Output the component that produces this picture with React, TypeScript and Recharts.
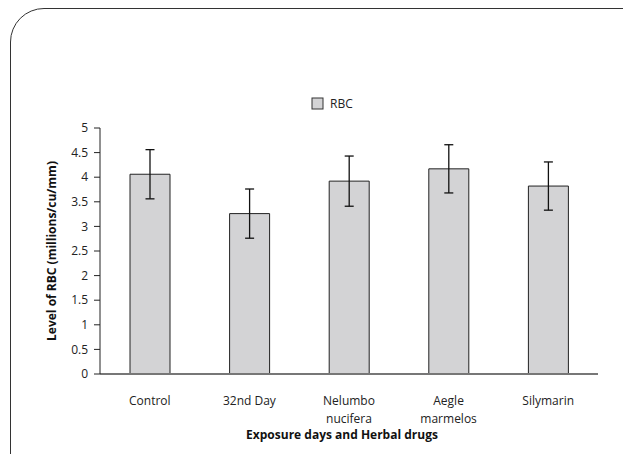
import { Bar, BarChart, ErrorBar, Label, Legend, XAxis, YAxis } from "recharts";

const categories = ["Control", "32nd Day", "Nelumbo\nnucifera", "Aegle\nmarmelos", "Silymarin"];
const rbc = [4.06, 3.26, 3.92, 4.17, 3.82];
const rbcErr = [0.5, 0.5, 0.51, 0.49, 0.49];
const yTicks = [0, 0.5, 1, 1.5, 2, 2.5, 3, 3.5, 4, 4.5, 5];

const FONT = "'Open Sans', 'Noto Sans', sans-serif";

const data = categories.map((c, i) => ({ name: c, rbc: rbc[i], err: rbcErr[i] }));

function CategoryTick(props: any) {
  const { x, y, payload } = props;
  const lines = String(payload.value).split("\n");
  return (
    <text x={x} y={y} textAnchor="middle" fontSize={12} fill="#222" fontFamily={FONT}>
      {lines.map((l, i) => (
        <tspan key={l} x={x} dy={i === 0 ? 25 : 18}>
          {l}
        </tspan>
      ))}
    </text>
  );
}

function RbcLegend() {
  return (
    <div style={{ display: "flex", alignItems: "center", fontFamily: FONT, fontSize: 12, color: "#222" }}>
      <svg width={14} height={14} style={{ marginRight: 5 }}>
        <rect x={1} y={1} width={11} height={11} fill="#d3d3d5" stroke="#333" strokeWidth={1} />
      </svg>
      <span>RBC</span>
    </div>
  );
}

export default function App() {
  return (
    <div style={{ position: "absolute", left: 0, top: 0, width: 623, height: 454, overflow: "hidden", background: "#fff" }}>
      <div
        style={{
          position: "absolute",
          left: 10,
          top: 8,
          width: 650,
          height: 520,
          border: "1.5px solid #333",
          borderRadius: 34,
          boxSizing: "border-box",
        }}
      />
      <div style={{ position: "absolute", left: 0, top: 0 }}>
        <BarChart
          width={623}
          height={454}
          data={data}
          margin={{ top: 128, right: 25, left: 40, bottom: 15 }}
        >
          <Legend
            layout="horizontal"
            verticalAlign="middle"
            align="center"
            content={() => <RbcLegend />}
            wrapperStyle={{ position: "absolute", left: 311, top: 95, width: "auto" }}
          />
          <XAxis
            dataKey="name"
            tickLine={false}
            tickMargin={0}
            height={65}
            interval={0}
            stroke="#777"
            strokeWidth={2}
            tick={<CategoryTick />}
          >
            <Label
              value="Exposure days and Herbal drugs"
              position="insideBottom"
              offset={0}
              dx={-7}
              style={{ fontFamily: FONT, fontSize: 12, fontWeight: 700, fill: "#111" }}
            />
          </XAxis>
          <YAxis
            width={60}
            domain={[0, 5]}
            ticks={yTicks}
            interval={0}
            tickSize={6}
            tickMargin={6}
            stroke="#222"
            tick={{ fontSize: 12, fill: "#222", fontFamily: FONT }}
          >
            <Label
              value="Level of RBC (millions/cu/mm)"
              angle={-90}
              position="center"
              dx={-18}
              style={{ fontFamily: FONT, fontSize: 12, fontWeight: 700, fill: "#111", textAnchor: "middle" }}
            />
          </YAxis>
          <Bar dataKey="rbc" name="RBC" fill="#d3d3d5" stroke="#222" strokeWidth={1} barSize={40} isAnimationActive={false}>
            <ErrorBar dataKey="err" width={4.5} stroke="#111" strokeWidth={1.3} isAnimationActive={false} />
          </Bar>
        </BarChart>
      </div>
    </div>
  );
}
